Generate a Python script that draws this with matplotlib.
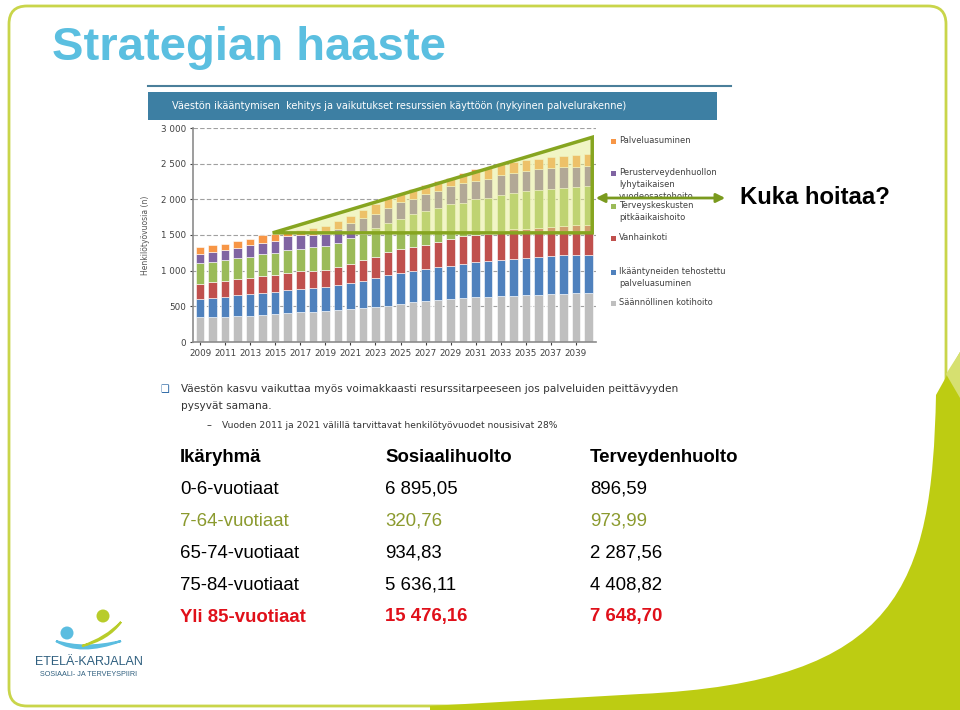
import numpy as np
import matplotlib.pyplot as plt
from matplotlib.patches import FancyBboxPatch, Polygon, Circle, PathPatch, Rectangle
from matplotlib.path import Path

# --- chart data (henkilötyövuosia per palvelu) ---
years = list(range(2009, 2041))
kotihoito = [345, 345, 350, 360, 365, 380, 395, 405, 415, 425, 435, 450, 465, 475, 490, 510,
             535, 555, 580, 595, 605, 620, 630, 635, 650, 650, 655, 665, 670, 675, 680, 680]
tehostettu = [260, 275, 285, 295, 305, 310, 310, 330, 330, 335, 340, 350, 360, 385, 405, 425,
              435, 440, 450, 450, 460, 480, 495, 495, 500, 520, 525, 525, 535, 540, 545, 545]
vanhainkoti = [215, 220, 225, 225, 225, 235, 235, 235, 245, 240, 240, 250, 275, 285, 295, 325,
               330, 340, 335, 355, 385, 380, 375, 390, 405, 410, 410, 410, 410, 410, 410, 415]
pitkaaikaishoito = [285, 285, 285, 295, 295, 310, 310, 325, 310, 330, 330, 335, 360, 375, 410, 410,
                    430, 455, 470, 480, 480, 475, 500, 505, 505, 505, 520, 530, 535, 540, 540, 540]
vuodeosasto = [135, 135, 145, 145, 165, 155, 165, 185, 195, 170, 175, 195, 205, 215, 200, 215,
               235, 210, 235, 240, 250, 270, 260, 260, 280, 280, 290, 290, 290, 290, 285, 290]
palveluasuminen = [85, 95, 88, 90, 85, 105, 95, 70, 75, 100, 105, 110, 100, 115, 140, 130,
                   105, 150, 130, 135, 125, 150, 160, 155, 165, 160, 155, 150, 150, 155, 160, 160]

series = [kotihoito, tehostettu, vanhainkoti, pitkaaikaishoito, vuodeosasto, palveluasuminen]
series_colors = ['#bfbfbf', '#4f81bd', '#c0504d', '#9bbb59', '#8064a2', '#f79646']
legend_labels = ['Säännöllinen kotihoito', 'Ikääntyneiden tehostettu\npalveluasuminen',
                 'Vanhainkoti', 'Terveyskeskusten\npitkäaikaishoito',
                 'Perusterveydenhuollon\nlyhytaikaisen\nvuodeosastohoito', 'Palveluasuminen']
y_ticks = [0, 500, 1000, 1500, 2000, 2500, 3000]
x_tick_years = years[::2]

# --- table data ---
age_groups = ['0-6-vuotiaat', '7-64-vuotiaat', '65-74-vuotiaat', '75-84-vuotiaat', 'Yli 85-vuotiaat']
sosiaalihuolto = ['6 895,05', '320,76', '934,83', '5 636,11', '15 476,16']
terveydenhuolto = ['896,59', '973,99', '2 287,56', '4 408,82', '7 648,70']
row_colors = ['black', '#8b9a2e', 'black', 'black', '#e0101a']
row_weights = ['normal', 'normal', 'normal', 'normal', 'bold']

OLIVE = '#86a520'

fig = plt.figure(figsize=(9.6, 7.1), dpi=100)

# background axes in pixel coordinates for the slide decoration
bg = fig.add_axes([0, 0, 1, 1])
bg.set_xlim(0, 960)
bg.set_ylim(710, 0)
bg.axis('off')
bg.set_zorder(0)

# slide frame
bg.add_patch(FancyBboxPatch((9, 6), 937, 700, boxstyle='round,pad=0,rounding_size=18',
                            facecolor='white', edgecolor='#c9d54a', lw=2))

# green corner (smooth curve)
corner = Path([(960, 352), (936, 395), (932, 585), (900, 682), (640, 694),
               (430, 706), (430, 710), (960, 710), (960, 352)],
              [Path.MOVETO, Path.LINETO, Path.CURVE4, Path.CURVE4, Path.CURVE4,
               Path.LINETO, Path.LINETO, Path.LINETO, Path.CLOSEPOLY])
bg.add_patch(PathPatch(corner, facecolor='#bdcc12', edgecolor='none'))
bg.add_patch(Polygon([(960, 352), (946, 374), (960, 398)], closed=True,
                     facecolor='#d6e070', edgecolor='none'))

# title
bg.text(52, 48, 'Strategian haaste', fontsize=34, fontweight='bold', color='#5bbfe0',
        family=['Liberation Sans Narrow', 'Liberation Sans'], va='center', ha='left')
bg.plot([148, 731], [86, 86], color='#4a7f9a', lw=1.5)

# chart image header
bg.add_patch(Rectangle((148, 92), 569, 28, facecolor='#3d7fa3', edgecolor='none'))
bg.text(172, 106, 'Väestön ikääntymisen  kehitys ja vaikutukset resurssien käyttöön (nykyinen palvelurakenne)',
        color='white', fontsize=7, va='center', ha='left')

# legend of the chart
legend_y = [303, 272, 238, 206, 173, 141]
for lab, col, yy in zip(legend_labels, series_colors, legend_y):
    bg.add_patch(Rectangle((611, yy - 2.5), 5, 5, facecolor=col, edgecolor='none'))
    bg.text(619, yy - 5, lab, fontsize=6, color='#404040', va='top', ha='left', linespacing=1.45)

bg.text(145, 235, 'Henkilötyövuosia (n)', fontsize=5.5, color='#555555', rotation=90,
        va='center', ha='center')

# arrow + question
bg.annotate('', xy=(593, 198), xytext=(728, 198),
            arrowprops=dict(arrowstyle='<|-|>', color='#7a9a1e', lw=2, mutation_scale=13),
            zorder=6)
bg.text(740, 198, 'Kuka hoitaa?', fontsize=17.2, fontweight='bold', color='black',
        va='center', ha='left', family='Liberation Sans')

# bullet text below the chart
bg.text(160, 389, '❑', fontsize=7, color='#1f5fa0', va='center', ha='left')
bg.text(181, 389, 'Väestön kasvu vaikuttaa myös voimakkaasti resurssitarpeeseen jos palveluiden peittävyyden',
        fontsize=7.6, color='#333333', va='center', ha='left')
bg.text(181, 406, 'pysyvät samana.', fontsize=7.6, color='#333333', va='center', ha='left')
bg.text(207, 425, '–', fontsize=7, color='#333333', va='center', ha='left')
bg.text(222, 425, 'Vuoden 2011 ja 2021 välillä tarvittavat henkilötyövuodet nousisivat 28%',
        fontsize=6.6, color='#333333', va='center', ha='left')

# table
col_x = [180, 385, 590]
tfont = dict(family='Liberation Sans', fontsize=13.4, va='center', ha='left')
for x, h in zip(col_x, ['Ikäryhmä', 'Sosiaalihuolto', 'Terveydenhuolto']):
    bg.text(x, 457, h, fontweight='bold', color='black', **tfont)
for i, (g, s, t) in enumerate(zip(age_groups, sosiaalihuolto, terveydenhuolto)):
    yy = 489 + 32 * i
    for x, val in zip(col_x, [g, s, t]):
        bg.text(x, yy, val, color=row_colors[i], fontweight=row_weights[i], **tfont)

# logo
bg.add_patch(Circle((67, 633), 6.5, facecolor='#5bbde0', edgecolor='none'))
bg.add_patch(Circle((103, 616), 6.5, facecolor='#b8cc2a', edgecolor='none'))
swoosh_b = Path([(56, 641), (80, 656), (121, 641), (84, 650), (56, 641)],
                [Path.MOVETO, Path.CURVE3, Path.CURVE3, Path.CURVE3, Path.CURVE3])
bg.add_patch(PathPatch(swoosh_b, facecolor='#5bbde0', edgecolor='#5bbde0', lw=1.5))
swoosh_g = Path([(82, 646), (108, 640), (121, 622), (106, 638), (82, 646)],
                [Path.MOVETO, Path.CURVE3, Path.CURVE3, Path.CURVE3, Path.CURVE3])
bg.add_patch(PathPatch(swoosh_g, facecolor='#b8cc2a', edgecolor='#b8cc2a', lw=1.5))
bg.text(89, 662, 'ETELÄ-KARJALAN', fontsize=9, color='#2f5f7f', ha='center', va='center',
        family='Liberation Sans')
bg.text(89, 675, 'SOSIAALI- JA TERVEYSPIIRI', fontsize=5.2, color='#2f5f7f', ha='center',
        va='center', family='Liberation Sans')

# --- the stacked bar chart ---
ax = fig.add_axes([193 / 960, (710 - 342) / 710, 403 / 960, 214 / 710])
ax.set_zorder(1)
ax.set_facecolor('none')

bottom = np.zeros(len(years))
for vals, col in zip(series, series_colors):
    ax.bar(years, vals, 0.68, bottom=bottom, color=col, edgecolor='white', linewidth=0.4, zorder=2)
    bottom += np.array(vals)

# highlighted growth triangle
tri = [(2014.8, 1530), (2040.3, 2870), (2040.3, 1530)]
ax.add_patch(Polygon(tri, closed=True, facecolor='#e4ec8c', alpha=0.5, edgecolor='none', zorder=3))
ax.add_patch(Polygon(tri, closed=True, fill=False, edgecolor=OLIVE, lw=2.5, zorder=4,
                     joinstyle='miter'))

ax.set_xlim(2008.44, 2040.6)
ax.set_ylim(0, 3000)
ax.set_yticks(y_ticks)
ax.set_yticklabels([f'{v:,}'.replace(',', ' ') for v in y_ticks])
ax.set_xticks(x_tick_years)
ax.set_xticklabels([str(y) for y in x_tick_years])
ax.tick_params(axis='both', labelsize=6.3, colors='#404040', length=2, pad=3)
ax.grid(axis='y', color='#a0a0a0', lw=0.8, ls=(0, (4, 2)), zorder=0)
ax.set_axisbelow(True)
for side in ['top', 'right']:
    ax.spines[side].set_visible(False)
for side in ['left', 'bottom']:
    ax.spines[side].set_color('#8c8c8c')
    ax.spines[side].set_linewidth(1.2)

fig.savefig('out.png', dpi=100)
